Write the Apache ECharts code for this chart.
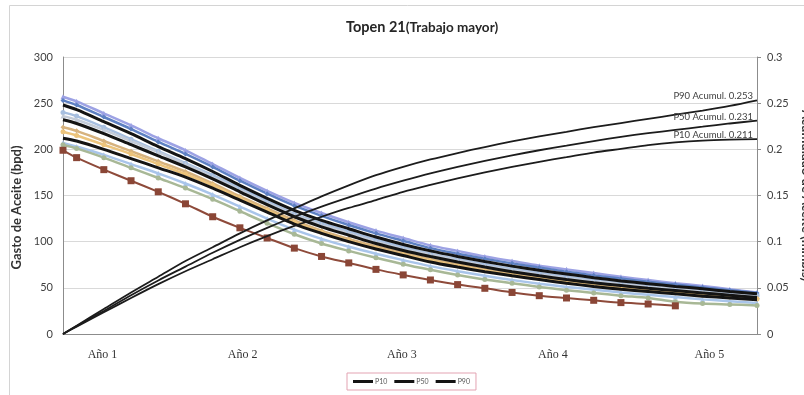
<!DOCTYPE html>
<html>
<head>
<meta charset="utf-8">
<script src="https://cdn.jsdelivr.net/npm/echarts@6/dist/echarts.min.js"></script>
<style>
html,body{margin:0;padding:0;background:#fff;}
#c{width:804px;height:395px;}
</style>
</head>
<body>
<div id="c"></div>
<script>
// Time steps (x-axis units) shared by every curve
const t = [0,1,3,5,7,9,11,13,15,17,19,21,23,25,27,29,31,33,35,37,39,41,43,45,47,49,51];

// Year labels and where they sit on the time axis
const yearLabels = ['Año 1','Año 2','Año 3','Año 4','Año 5'];
const yearPos = [2.9, 13.2, 24.9, 36.0, 47.5];

// Oil rate (bpd) – probabilistic profiles
const p90 = [248,243,230,217,203,190,176,161,147,134,123,114,105,97,90,84,78.5,73.5,69,65,61,57.5,54.5,51.5,49,46,43.5];
const p50 = [232,228,217,205,193,181,168,154,140,127,116,107,98,90.5,84,78,72.5,67.5,63,59,55.5,52.5,49.5,47,44.5,42,39.5];
const p10 = [212,209,200,190,180,170,158,145,132,119,109,100,92,85,78,72.5,67.5,63,59,55,51.5,48.5,46,43.5,41,39,37];

// Individual well realizations (bpd)
const real1 = [257,252,239,226,212,199,184,169,155,142,131,121,112,104,96,90,84,79,74,70,66,62,58.5,55,52,48.5,45];
const real2 = [253,248,235,222,208,195,181,166,152,139,128,118,109,101,93,87,81.5,76.5,72,67.5,63.5,60,56.5,53.5,50.5,47.5,44.5];
const real3 = [240,236,224,211,198,185,172,158,144,130,120,111,102,94,87,81,75.5,70.5,66,62,58.5,55,52,49,46.5,44,41.5];
const real4 = [236,232,221,209,197,184,170,156,142,129,118,109,100,92,86,80,74,69,64.5,60.5,57,54,51,48.5,45.5,43,40.5];
const real5 = [224,220,209,198,187,176,163,149,136,123,112,103,95,88,81,75.5,70,65,61,57,53.5,50.5,47.5,45,42.5,40.5,38.5];
const real6 = [219,215,205,195,184,173,161,147,134,121,110,101,93,86,79.5,74,68.5,64,60,56,52.5,49.5,47,44.5,42,40,38];
const real7 = [207,203,194,184,174,163,151,138,125,113,103,94.5,87,80,73.5,68,63,58.5,54.5,51,48,45,42.5,40,37.5,35.5,33.5];
const real8 = [205,201,191,180,169,158,146,133,120,108,98,90,82.5,75.5,69.5,64,59,55,51,47.5,44.5,41.5,39,35,33,32,31];
const real9 = [199,191,178,166,154,141,127,115,104,93,84,77,70,64,58.5,53.5,49.5,45,41.5,39,36.5,34,32.5,30.5];

// Cumulative oil (mmbls)
const cumP90 = [0,0.009,0.027,0.045,0.062,0.079,0.094,0.109,0.123,0.136,0.149,0.161,0.172,0.181,0.189,0.196,0.2025,0.2085,0.214,0.219,0.224,0.2285,0.233,0.2375,0.242,0.247,0.253];
const cumP50 = [0,0.0085,0.025,0.042,0.058,0.073,0.088,0.102,0.115,0.127,0.138,0.148,0.1575,0.166,0.174,0.181,0.1875,0.1935,0.199,0.204,0.209,0.2135,0.2175,0.221,0.2245,0.228,0.231];
const cumP10 = [0,0.008,0.0235,0.039,0.054,0.068,0.081,0.094,0.106,0.117,0.127,0.1365,0.145,0.154,0.1615,0.1685,0.175,0.181,0.1865,0.1915,0.1965,0.2005,0.2045,0.2075,0.2095,0.2105,0.211];

const pairs = (vals) => vals.map((v, i) => [t[i], v]);

function realization(name, vals, color, symbol) {
  return {
    name: name, type: 'line', data: pairs(vals), yAxisIndex: 0,
    smooth: 0.3, symbol: symbol, symbolSize: 5,
    lineStyle: { color: color, width: 2.5 },
    itemStyle: { color: color },
    emphasis: { disabled: true }, z: 2
  };
}

function rate(name, vals) {
  return {
    name: name, type: 'line', data: pairs(vals), yAxisIndex: 0,
    smooth: 0.3, symbol: 'none',
    lineStyle: { color: '#141414', width: 3 },
    itemStyle: { color: '#141414' },
    emphasis: { disabled: true }, z: 4
  };
}

function cumulative(tag, vals) {
  return {
    name: tag + ' Acumul.', type: 'line', data: pairs(vals), yAxisIndex: 1,
    smooth: 0.3, symbol: 'none',
    lineStyle: { color: '#1c1c1c', width: 1.8 },
    itemStyle: { color: '#1c1c1c' },
    endLabel: {
      show: true, align: 'right', distance: 0, offset: [-4, -4],
      formatter: (p) => tag + ' Acumul. ' + p.value[1].toFixed(3),
      fontFamily: 'Lato', fontSize: 9.5, color: '#404040'
    },
    emphasis: { disabled: true }, z: 5
  };
}

const chart = echarts.init(document.getElementById('c'), null, { renderer: 'canvas' });

chart.setOption({
  animation: false,
  backgroundColor: '#ffffff',
  title: {
    text: '{a|Topen 21}{b|(Trabajo mayor)}',
    left: 341, top: 15,
    textStyle: {
      rich: {
        a: { fontFamily: 'Lato', fontWeight: 'bold', fontSize: 14.5, color: '#262626' },
        b: { fontFamily: 'Lato', fontWeight: 'bold', fontSize: 13.5, color: '#262626' }
      }
    }
  },
  graphic: [{
    type: 'rect', silent: true,
    shape: { x: 9.5, y: 5.5, width: 800, height: 400 },
    style: { fill: 'none', stroke: '#d4d4d4', lineWidth: 1 }
  }],
  legend: {
    left: 347, top: 373,
    padding: [5, 6],
    itemGap: 7, itemWidth: 20, itemHeight: 3,
    borderColor: '#e3a3b2', borderWidth: 1,
    textStyle: { fontFamily: 'Lato', fontSize: 7, color: '#595959', padding: [0, 0, 0, -3] },
    data: [
      { name: 'P10', icon: 'rect' },
      { name: 'P50', icon: 'rect' },
      { name: 'P90', icon: 'rect' }
    ]
  },
  grid: { left: 63, right: 47, top: 57, bottom: 61, containLabel: false, outerBoundsMode: 'none' },
  xAxis: {
    type: 'value', min: 0, max: 51,
    axisLine: { show: true, lineStyle: { color: '#8c8c8c', width: 1 } },
    axisTick: { show: false },
    splitLine: { show: false },
    axisLabel: {
      customValues: yearPos,
      margin: 15,
      fontFamily: 'Liberation Serif', fontSize: 12, color: '#333333',
      formatter: (v) => {
        let k = 0;
        yearPos.forEach((p, i) => { if (Math.abs(p - v) < Math.abs(yearPos[k] - v)) k = i; });
        return yearLabels[k];
      }
    }
  },
  yAxis: [{
    type: 'value', min: 0, max: 300, interval: 50,
    name: 'Gasto de Aceite (bpd)', nameLocation: 'middle', nameGap: 34,
    nameTextStyle: { fontFamily: 'Lato', fontWeight: 'bold', fontSize: 13, color: '#333333', padding: [0, 24, 0, 0] },
    axisLine: { show: true, lineStyle: { color: '#8c8c8c' } },
    axisTick: { show: false },
    splitLine: { show: true, lineStyle: { color: '#d9d9d9', width: 1 } },
    axisLabel: { fontFamily: 'Lato', fontSize: 11, color: '#404040', margin: 10 }
  }, {
    type: 'value', min: 0, max: 0.3, interval: 0.05, position: 'right',
    name: 'Acumulado de Aceite (mmbls)', nameLocation: 'middle', nameGap: 39, nameRotate: -90,
    nameTextStyle: { fontFamily: 'Lato', fontWeight: 'bold', fontSize: 13, color: '#333333' },
    axisLine: { show: true, lineStyle: { color: '#8c8c8c' } },
    axisTick: { show: true, length: 4, inside: false, lineStyle: { color: '#8c8c8c' } },
    splitLine: { show: false },
    axisLabel: { fontFamily: 'Lato', fontSize: 11, color: '#404040', margin: 10 }
  }],
  series: [
    realization('Pozo 1', real1, '#9da2e4', 'triangle'),
    realization('Pozo 2', real2, '#5d80c2', 'diamond'),
    realization('Pozo 3', real3, '#a7bfe0', 'circle'),
    realization('Pozo 4', real4, '#c3cbd8', 'triangle'),
    realization('Pozo 5', real5, '#d6b27e', 'diamond'),
    realization('Pozo 6', real6, '#ecc47c', 'circle'),
    realization('Pozo 7', real7, '#a9c5ea', 'triangle'),
    realization('Pozo 8', real8, '#a8b896', 'circle'),
    {
      name: 'Pozo 9', type: 'line', data: pairs(real9), yAxisIndex: 0,
      smooth: 0.2, symbol: 'rect', symbolSize: 7,
      lineStyle: { color: '#8e4a3a', width: 2 },
      itemStyle: { color: '#8a4636' },
      emphasis: { disabled: true }, z: 3
    },
    rate('P10', p10),
    rate('P50', p50),
    rate('P90', p90),
    cumulative('P90', cumP90),
    cumulative('P50', cumP50),
    cumulative('P10', cumP10)
  ]
});
</script>
</body>
</html>
